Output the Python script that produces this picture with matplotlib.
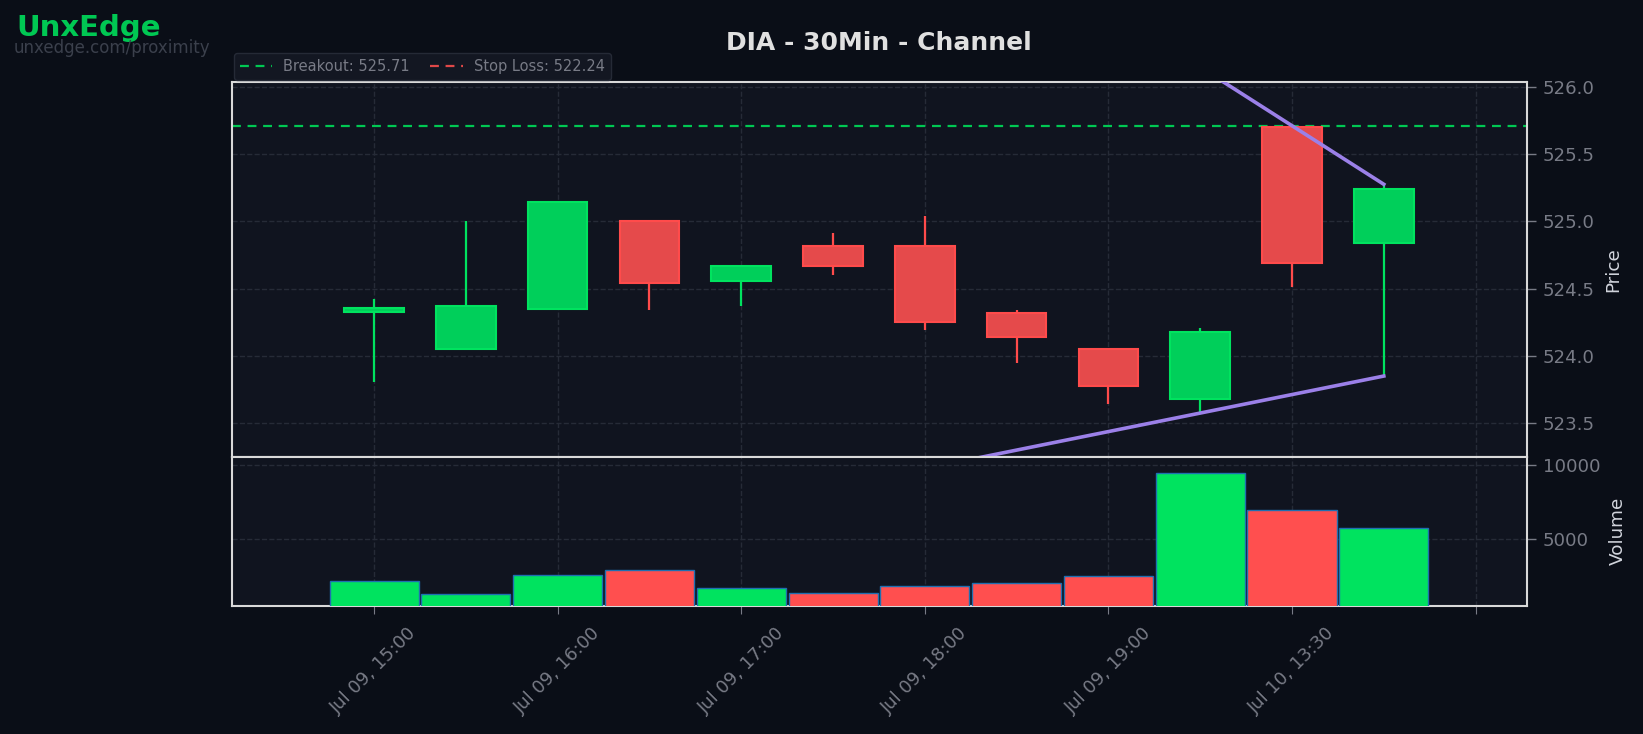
import matplotlib
matplotlib.use('Agg')
import matplotlib.pyplot as plt
from matplotlib.lines import Line2D

# OHLC values (30-minute bars)
times = ['Jul 09, 15:00', 'Jul 09, 15:30', 'Jul 09, 16:00', 'Jul 09, 16:30',
         'Jul 09, 17:00', 'Jul 09, 17:30', 'Jul 09, 18:00', 'Jul 09, 18:30',
         'Jul 09, 19:00', 'Jul 09, 19:30', 'Jul 10, 13:30', 'Jul 10, 14:00']
opens = [524.33, 524.05, 524.35, 525.00, 524.56, 524.82, 524.82, 524.32, 524.05, 523.68, 525.70, 524.84]
highs = [524.42, 525.00, 525.14, 525.00, 524.67, 524.91, 525.04, 524.34, 524.05, 524.21, 525.70, 525.27]
lows = [523.81, 524.05, 524.35, 524.34, 524.37, 524.60, 524.19, 523.95, 523.64, 523.58, 524.51, 523.85]
closes = [524.36, 524.37, 525.14, 524.54, 524.67, 524.67, 524.25, 524.14, 523.78, 524.18, 524.69, 525.24]
volumes = [2170, 1285, 2550, 2895, 1695, 1340, 1830, 2030, 2520, 9450, 6970, 5770]

breakout = 525.71
stop_loss = 522.24

# channel lines (bar index, price)
upper_x = [8, 11]
upper_y = [526.58, 525.275]
lower_x = [5, 11]
lower_y = [523.026, 523.851]

tick_pos = [0, 2, 4, 6, 8, 10, 12]
tick_labels = [times[0], times[2], times[4], times[6], times[8], times[10], '']

BG = '#0a0e17'
PANEL = '#10141f'
GRID = '#262b37'
TXT = '#787b86'
UP_FACE, UP_EDGE = '#00cf5a', '#00e35f'
DN_FACE, DN_EDGE = '#e54a4b', '#ff4b4b'
VOL_UP, VOL_DN = '#00e35f', '#ff4f4f'

fig = plt.figure(figsize=(16.43, 7.34), dpi=100, facecolor=BG)
ax = fig.add_axes([0.141, 0.3778, 0.7884, 0.5109])
axv = fig.add_axes([0.141, 0.1749, 0.7884, 0.2029], sharex=ax)

x = list(range(len(opens)))
up = [c >= o for o, c in zip(opens, closes)]

for a in (ax, axv):
    a.set_facecolor(PANEL)
    for s in a.spines.values():
        s.set_color('#d9d9d9')
        s.set_linewidth(1.5)
    a.grid(True, color=GRID, linestyle='--', linewidth=1.0)
    a.set_axisbelow(True)
    a.yaxis.tick_right()
    a.yaxis.set_label_position('right')
    a.tick_params(axis='y', colors=TXT, labelsize=13.1, length=6.3, width=1, pad=5)
    a.tick_params(axis='x', colors=TXT)

# wicks
ax.vlines(x, lows, highs, colors=[UP_EDGE if u else DN_EDGE for u in up], linewidth=1.6, zorder=2)
# bodies
ax.bar(x, [abs(c - o) for o, c in zip(opens, closes)], bottom=[min(o, c) for o, c in zip(opens, closes)],
       width=0.65, color=[UP_FACE if u else DN_FACE for u in up],
       edgecolor=[UP_EDGE if u else DN_EDGE for u in up], linewidth=1.5, zorder=3)

ax.axhline(breakout, color='#00c853', linestyle='--', linewidth=1.6, dashes=(4, 3), zorder=1)
ax.axhline(stop_loss, color='#e04848', linestyle='--', linewidth=1.6, dashes=(4, 3), zorder=1)

ax.plot(upper_x, upper_y, color='#9b80e8', linewidth=2.6, zorder=4)
ax.plot(lower_x, lower_y, color='#9b80e8', linewidth=2.6, zorder=4)

ax.set_xlim(-1.551, 12.56)
ax.set_ylim(523.252, 526.037)
ax.set_yticks([523.5, 524.0, 524.5, 525.0, 525.5, 526.0])
ax.yaxis.set_major_formatter(plt.FormatStrFormatter('%.1f'))
ax.set_ylabel('Price', color='#d1d4dc', fontsize=13.2, labelpad=6.7)
plt.setp(ax.get_xticklabels(), visible=False)
ax.tick_params(axis='x', length=0)

axv.bar(x, volumes, width=0.97, color=[VOL_UP if u else VOL_DN for u in up],
        edgecolor='#1f6fb0', linewidth=1.0, zorder=3)
axv.set_ylim(500, 10560)
axv.set_yticks([5000, 10000])
axv.set_ylabel('Volume', color='#d1d4dc', fontsize=13.2, labelpad=6.2)
axv.set_xticks(tick_pos)
axv.set_xticklabels(tick_labels, rotation=45, ha='center', fontsize=13)
axv.tick_params(axis='x', length=6, pad=7.3)

leg_handles = [Line2D([0], [0], color='#00c853', linestyle='--', linewidth=1.6, dashes=(4, 3)),
               Line2D([0], [0], color='#e04848', linestyle='--', linewidth=1.6, dashes=(4, 3))]
leg = ax.legend(leg_handles, [f'Breakout: {breakout:.2f}', f'Stop Loss: {stop_loss:.2f}'],
                loc='lower left', bbox_to_anchor=(0, 1.0), ncol=2, fontsize=10.5,
                frameon=True, facecolor='#131722', edgecolor='#252a36', labelcolor=TXT,
                borderaxespad=0.15, handlelength=2.2, columnspacing=1.4)
leg.get_frame().set_alpha(1.0)

fig.text(879.3 / 1643, 1 - 43 / 734, 'DIA - 30Min - Channel', ha='center', va='center',
         fontsize=18, fontweight='bold', color='#e0e0e0')
fig.text(16 / 1643, 1 - 36 / 734, 'UnxEdge', ha='left', va='baseline',
         fontsize=21, fontweight='bold', color='#00c853')
fig.text(14 / 1643, 1 - 39 / 734, 'unxedge.com/proximity', ha='left', va='top',
         fontsize=12, color='#3b404c')

fig.savefig('out.png', dpi=100, facecolor=BG)
